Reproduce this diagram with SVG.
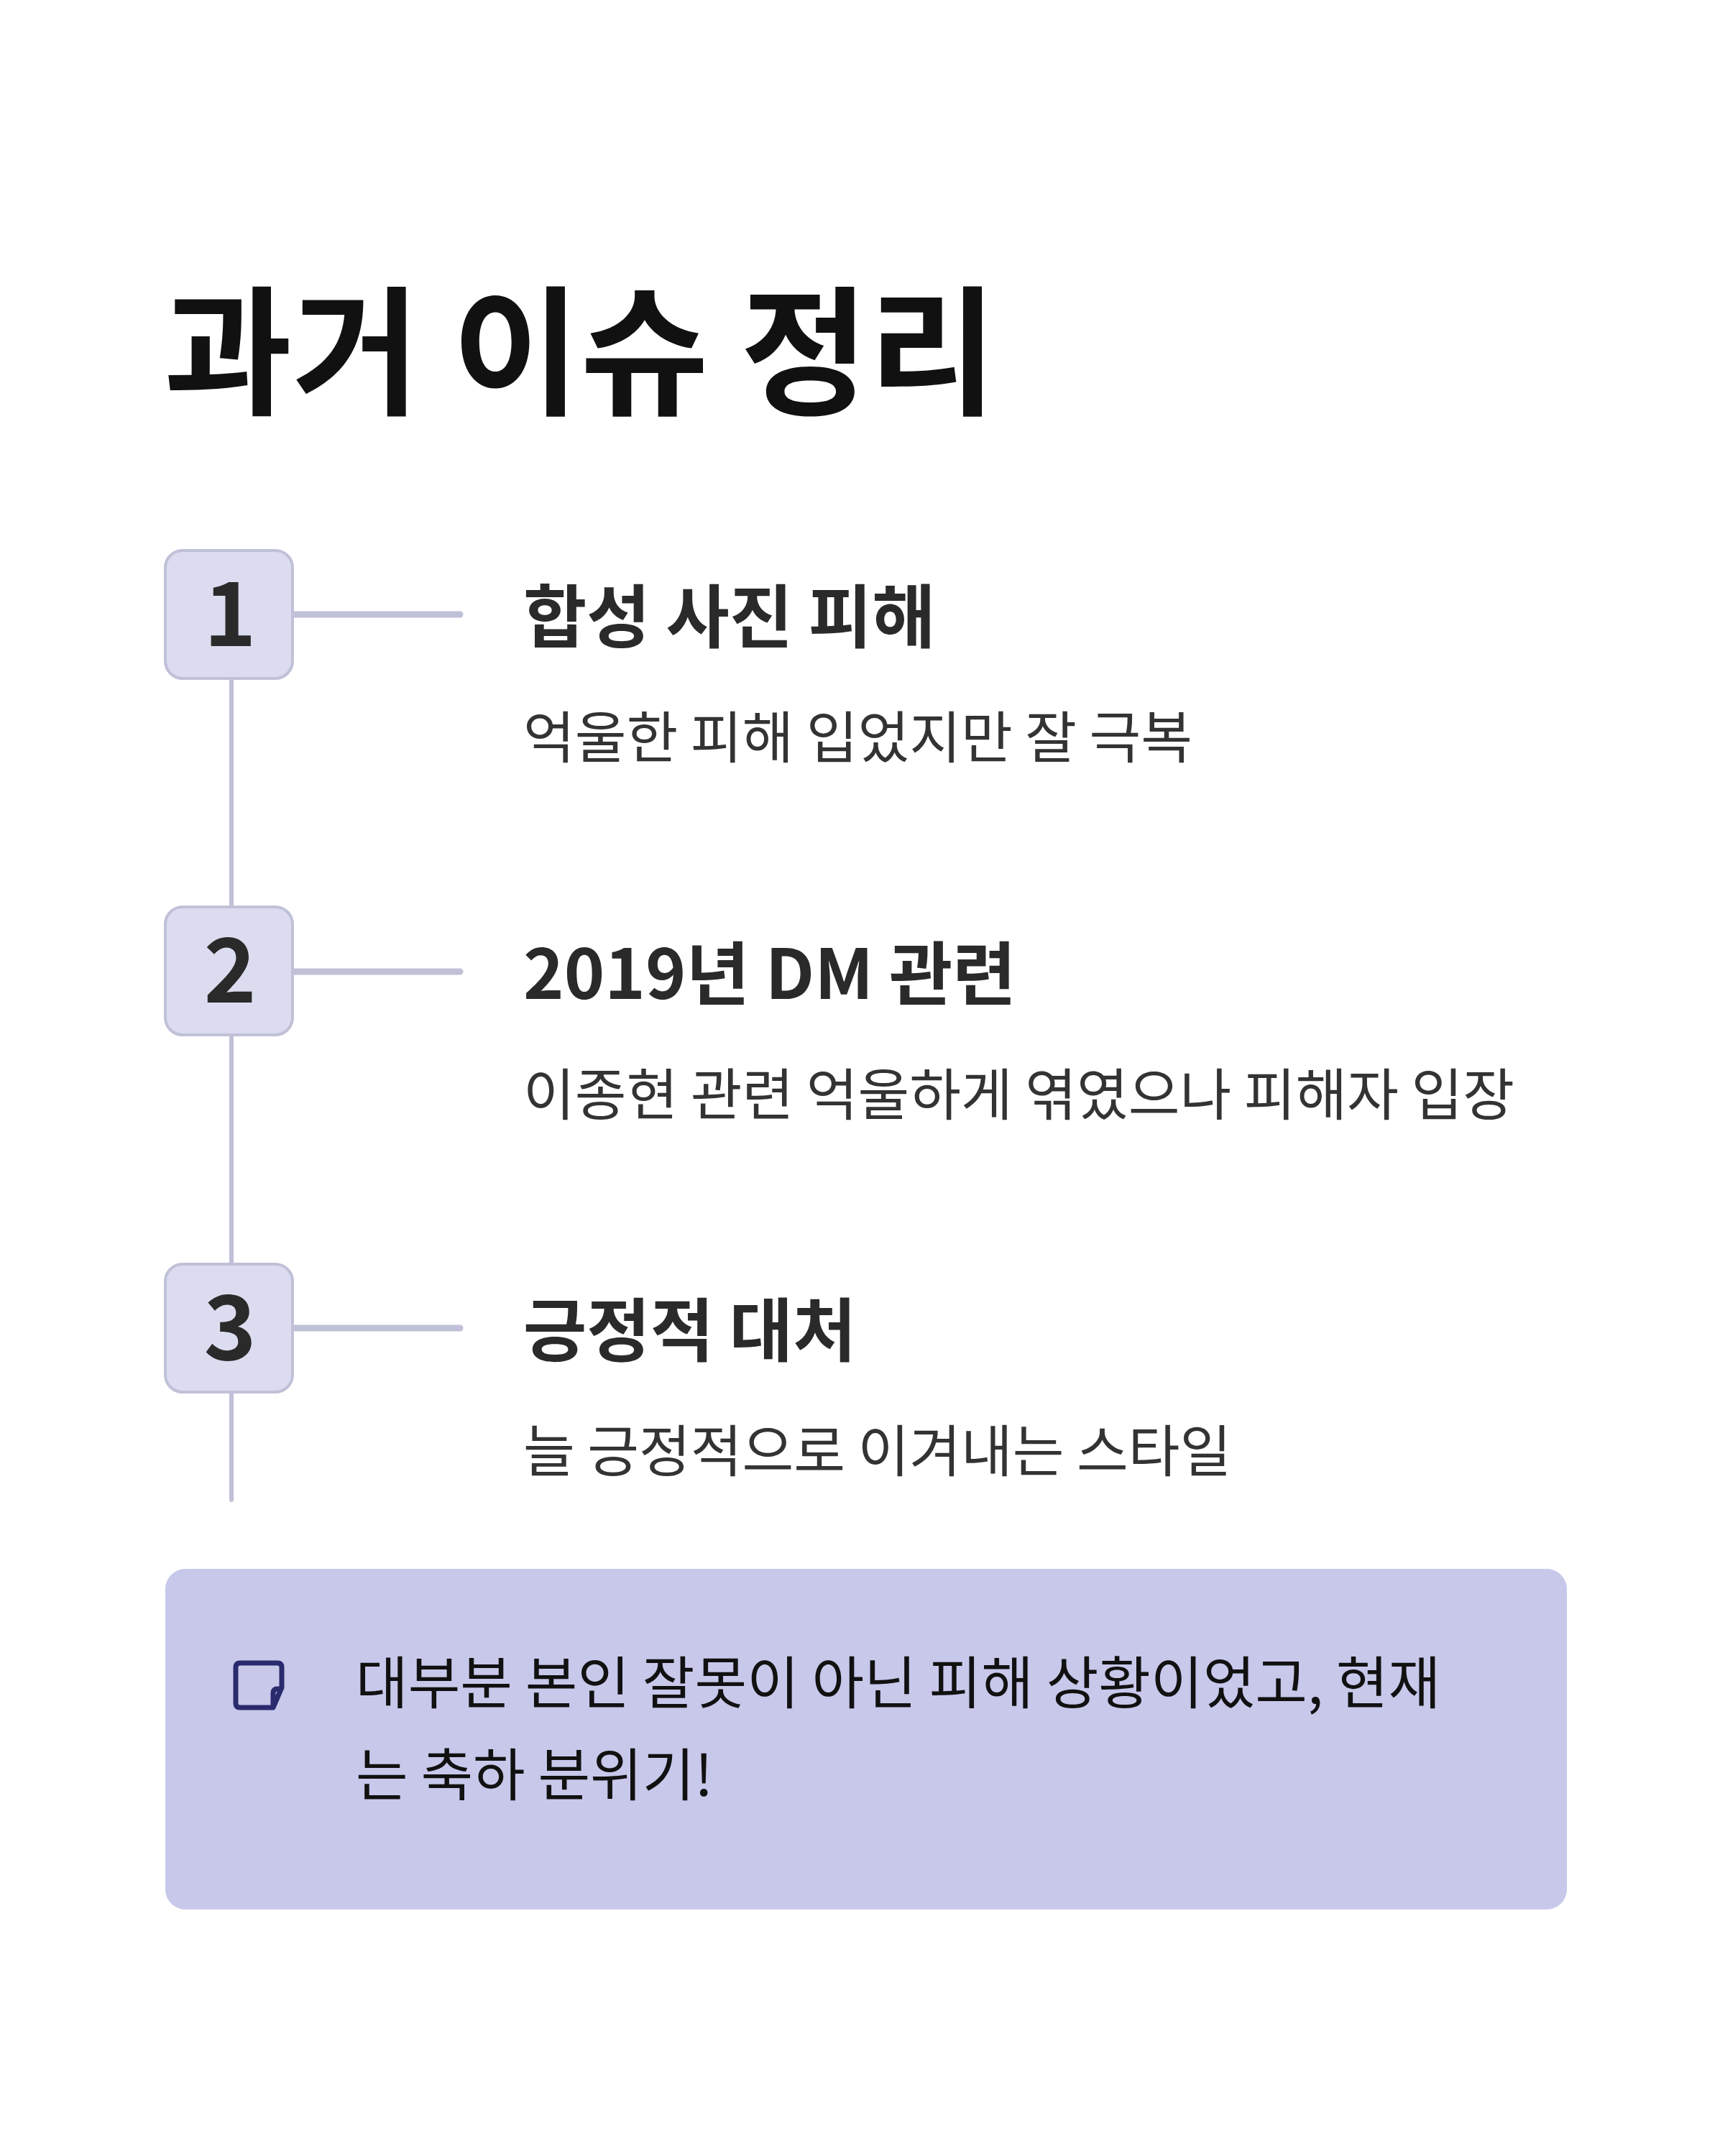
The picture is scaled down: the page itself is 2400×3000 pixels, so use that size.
<svg xmlns="http://www.w3.org/2000/svg" width="2400" height="3000" viewBox="0 0 2400 3000">
<style>
text{font-family:"Noto Sans CJK KR","Noto Sans",sans-serif}
.box{fill:#dcdcf0;stroke:#c0c0d8;stroke-width:4}
.num{font-size:124px;font-weight:700;fill:#2a2a2a;text-anchor:middle}
.head{font-size:96px;font-weight:700;fill:#2a2a2a}
.sub{font-size:78px;fill:#333}
.line{stroke:#c0c0d8;stroke-linecap:round}
</style>
<rect width="2400" height="3000" fill="#fff"/>
<text x="228" y="562" font-size="194" font-weight="700" fill="#111">과거 이슈 정리</text>
<g id="connectors">
<line class="line" x1="322" y1="944" x2="322" y2="1262" stroke-width="6"/>
<line class="line" x1="322" y1="1440" x2="322" y2="1758" stroke-width="6"/>
<line class="line" x1="322" y1="1937" x2="322" y2="2087" stroke-width="6"/>
<line class="line" x1="407" y1="855" x2="640" y2="855" stroke-width="9"/>
<line class="line" x1="407" y1="1352" x2="640" y2="1352" stroke-width="9"/>
<line class="line" x1="407" y1="1848" x2="640" y2="1848" stroke-width="9"/>
</g>
<g id="step1">
<rect class="box" x="230" y="766" width="177" height="178" rx="24"/>
<text class="num" x="320" y="899">1</text>
<text class="head" x="728" y="893">합성 사진 피해</text>
<text class="sub" x="728" y="1055">억울한 피해 입었지만 잘 극복</text>
</g>
<g id="step2">
<rect class="box" x="230" y="1262" width="177" height="178" rx="24"/>
<text class="num" x="320" y="1395">2</text>
<text class="head" x="728" y="1390">2019년 DM 관련</text>
<text class="sub" x="728" y="1552">이종현 관련 억울하게 엮였으나 피해자 입장</text>
</g>
<g id="step3">
<rect class="box" x="230" y="1759" width="177" height="178" rx="24"/>
<text class="num" x="320" y="1892">3</text>
<text class="head" x="728" y="1886">긍정적 대처</text>
<text class="sub" x="728" y="2048">늘 긍정적으로 이겨내는 스타일</text>
</g>
<g id="note">
<rect x="230" y="2183" width="1950" height="474" rx="28" fill="#c7c8ea"/>
<path d="M334 2314 H386 Q392 2314 392 2320 V2348 L380 2376 H334 Q328 2376 328 2370 V2320 Q328 2314 334 2314 Z M380 2376 V2356 Q380 2350 386 2350 H392" fill="none" stroke="#2a2a6e" stroke-width="7" stroke-linejoin="round"/>
<text x="495" y="2371" font-size="79" fill="#111">대부분 본인 잘못이 아닌 피해 상황이었고, 현재</text>
<text x="495" y="2499" font-size="79" fill="#111">는 축하 분위기!</text>
</g>
</svg>
